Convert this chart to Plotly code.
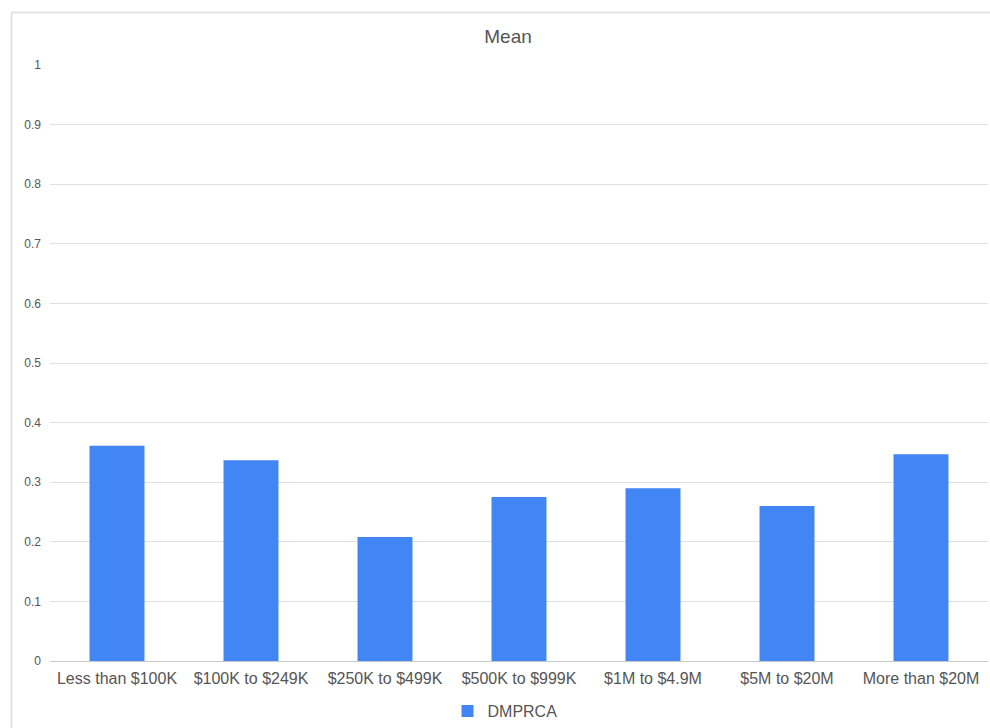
import plotly.graph_objects as go

categories = ["Less than $100K", "$100K to $249K", "$250K to $499K", "$500K to $999K",
              "$1M to $4.9M", "$5M to $20M", "More than $20M"]
dmprca = [0.361, 0.337, 0.208, 0.275, 0.290, 0.260, 0.347]
y_ticks = [0, 0.1, 0.2, 0.3, 0.4, 0.5, 0.6, 0.7, 0.8, 0.9, 1]
y_tick_labels = ["0", "0.1", "0.2", "0.3", "0.4", "0.5", "0.6", "0.7", "0.8", "0.9", "1"]

W, H = 990, 728
L, R, T, B = 50, 2, 65, 67
pw = W - L - R
ph = H - T - B

def px_x(p):
    return (p - L) / pw

def px_y(p):
    return (H - B - p) / ph

font_family = "Liberation Sans, Arial, sans-serif"
txt = "#555555"

fig = go.Figure()
fig.add_trace(go.Bar(x=categories, y=dmprca, name="DMPRCA",
                     marker=dict(color="#4285F4", line=dict(width=0))))

fig.update_layout(
    width=W, height=H,
    margin=dict(l=L, r=R, t=T, b=B),
    paper_bgcolor="white", plot_bgcolor="white",
    bargap=0.59,
    font=dict(family=font_family, color=txt),
    title=dict(text="Mean", x=508 / W, xref="container", xanchor="center",
               y=1 - 36 / H, yref="container", yanchor="middle",
               font=dict(size=19, color=txt, family=font_family)),
    showlegend=True,
    legend=dict(orientation="h", xref="container", yref="container",
                x=505 / W, xanchor="center", y=1 - 711 / H, yanchor="middle",
                font=dict(size=16, color=txt), itemwidth=30),
    xaxis=dict(showgrid=False, showline=False, ticks="",
               ticklabelstandoff=6,
               tickfont=dict(size=16, color=txt)),
    yaxis=dict(range=[0, 1], tickvals=y_ticks, ticktext=y_tick_labels,
               showgrid=True, gridcolor="#e0e0e0", gridwidth=1,
               zeroline=True, zerolinecolor="#c8c8c8", zerolinewidth=1,
               showline=False, ticks="", ticklabelstandoff=8,
               tickfont=dict(size=12, color=txt)),
    shapes=[
        dict(type="line", xref="paper", yref="paper",
             x0=px_x(11.5), x1=px_x(1000), y0=px_y(12.5), y1=px_y(12.5),
             line=dict(color="#e3e3e3", width=2)),
        dict(type="line", xref="paper", yref="paper",
             x0=px_x(11.5), x1=px_x(11.5), y0=px_y(12.5), y1=px_y(740),
             line=dict(color="#e3e3e3", width=2)),
    ],
)

fig.write_html("out.html")
